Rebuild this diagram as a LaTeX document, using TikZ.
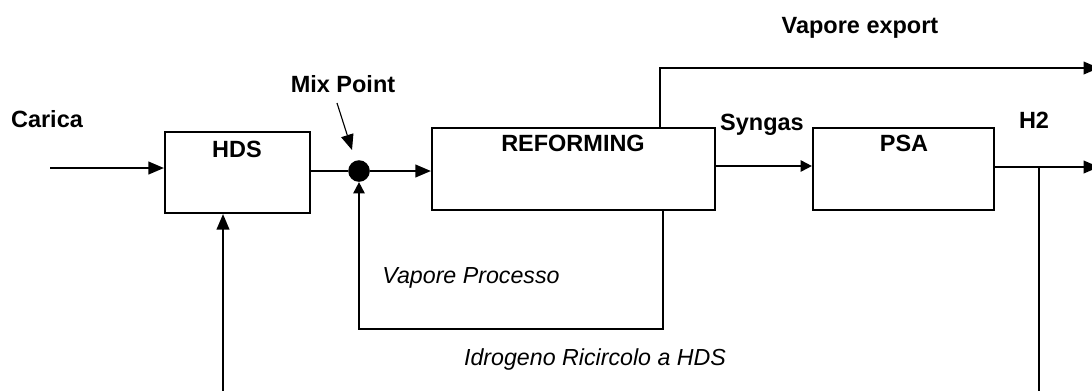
\documentclass[tikz,border=0pt]{standalone}
\usepackage{fontspec}
\setmainfont{Liberation Sans}
\usetikzlibrary{arrows.meta}

\tikzset{
  unit/.style={rectangle,draw=black,line width=1.5pt,inner sep=0pt},
  btxt/.style={anchor=base,inner sep=0pt,font=\fontsize{16.7}{20}\selectfont\bfseries},
  itxt/.style={anchor=base,inner sep=0pt,font=\fontsize{16.5}{20}\selectfont\itshape},
  flow/.style={line width=1.3pt},
  arr/.style={flow,-{Triangle[length=11pt,width=9pt]}},
  sarr/.style={flow,-{Triangle[length=8pt,width=8pt]}}
}

\begin{document}
\begin{tikzpicture}[x=0.025cm,y=-0.025cm]
\useasboundingbox (0,0) rectangle (1092,390);

\node[unit,minimum width=3.625cm,minimum height=2.025cm] (hds)       at (237.5,172.5) {};
\node[unit,minimum width=7.075cm,minimum height=2.05cm]  (reforming) at (573.5,169)   {};
\node[unit,minimum width=4.525cm,minimum height=2.05cm]  (psa)       at (903.5,169)   {};
\node[circle,fill=black,minimum size=0.54cm,inner sep=0pt] (mix) at (359,171) {};

\node[btxt] (hdslbl)  at (237,157) {HDS};
\node[btxt] (reflbl)  at (573,151) {REFORMING};
\node[btxt] (psalbl)  at (904,151) {PSA};
\node[btxt] (carica)  at (47,127)  {Carica};
\node[btxt] (mixlbl)  at (343,92)  {Mix Point};
\node[btxt] (syngas)  at (762,130) {Syngas};
\node[btxt] (h2lbl)   at (1034,128) {H2};
\node[btxt] (export)  at (860,33)  {Vapore export};
\node[itxt] (vapproc) at (471,283) {Vapore Processo};
\node[itxt] (ricirc)  at (595,365) {Idrogeno Ricircolo a HDS};

\coordinate (carin)   at (50,168);
\coordinate (mixtail) at (337,103);
\coordinate (mixtip)  at (352,150);
\coordinate (syn)     at (716,166);
\coordinate (vapup)   at (660,128);
\coordinate (vapout)  at (1099,68);
\coordinate (h2out)   at (1099,167);
\coordinate (h2tap)   at (1039,167);
\coordinate (h2bot)   at (1039,392);
\coordinate (loopr)   at (663,329);
\coordinate (loopl)   at (359,329);
\coordinate (h2feed)  at (223,392);

\draw[arr] (carin) -- (carin -| hds.west);
\draw[flow] (hds.east |- mix) -- (mix);
\draw[arr] (mix) -- (mix -| reforming.west);
\draw[line width=0.8pt,-{Triangle[length=11pt,width=9pt]}] (mixtail) -- (mixtip);
\draw[sarr] (syn) -- (syn -| psa.west);
\draw[arr] (vapup) |- (vapout);
\draw[arr] (h2out -| psa.east) -- (h2out);
\draw[flow] (h2tap) -- (h2bot);
\draw[sarr] (loopr |- reforming.south) -- (loopr) -- (loopl) -- (mix.south);
\draw[arr] (h2feed) -- (h2feed |- hds.south);

\end{tikzpicture}
\end{document}
